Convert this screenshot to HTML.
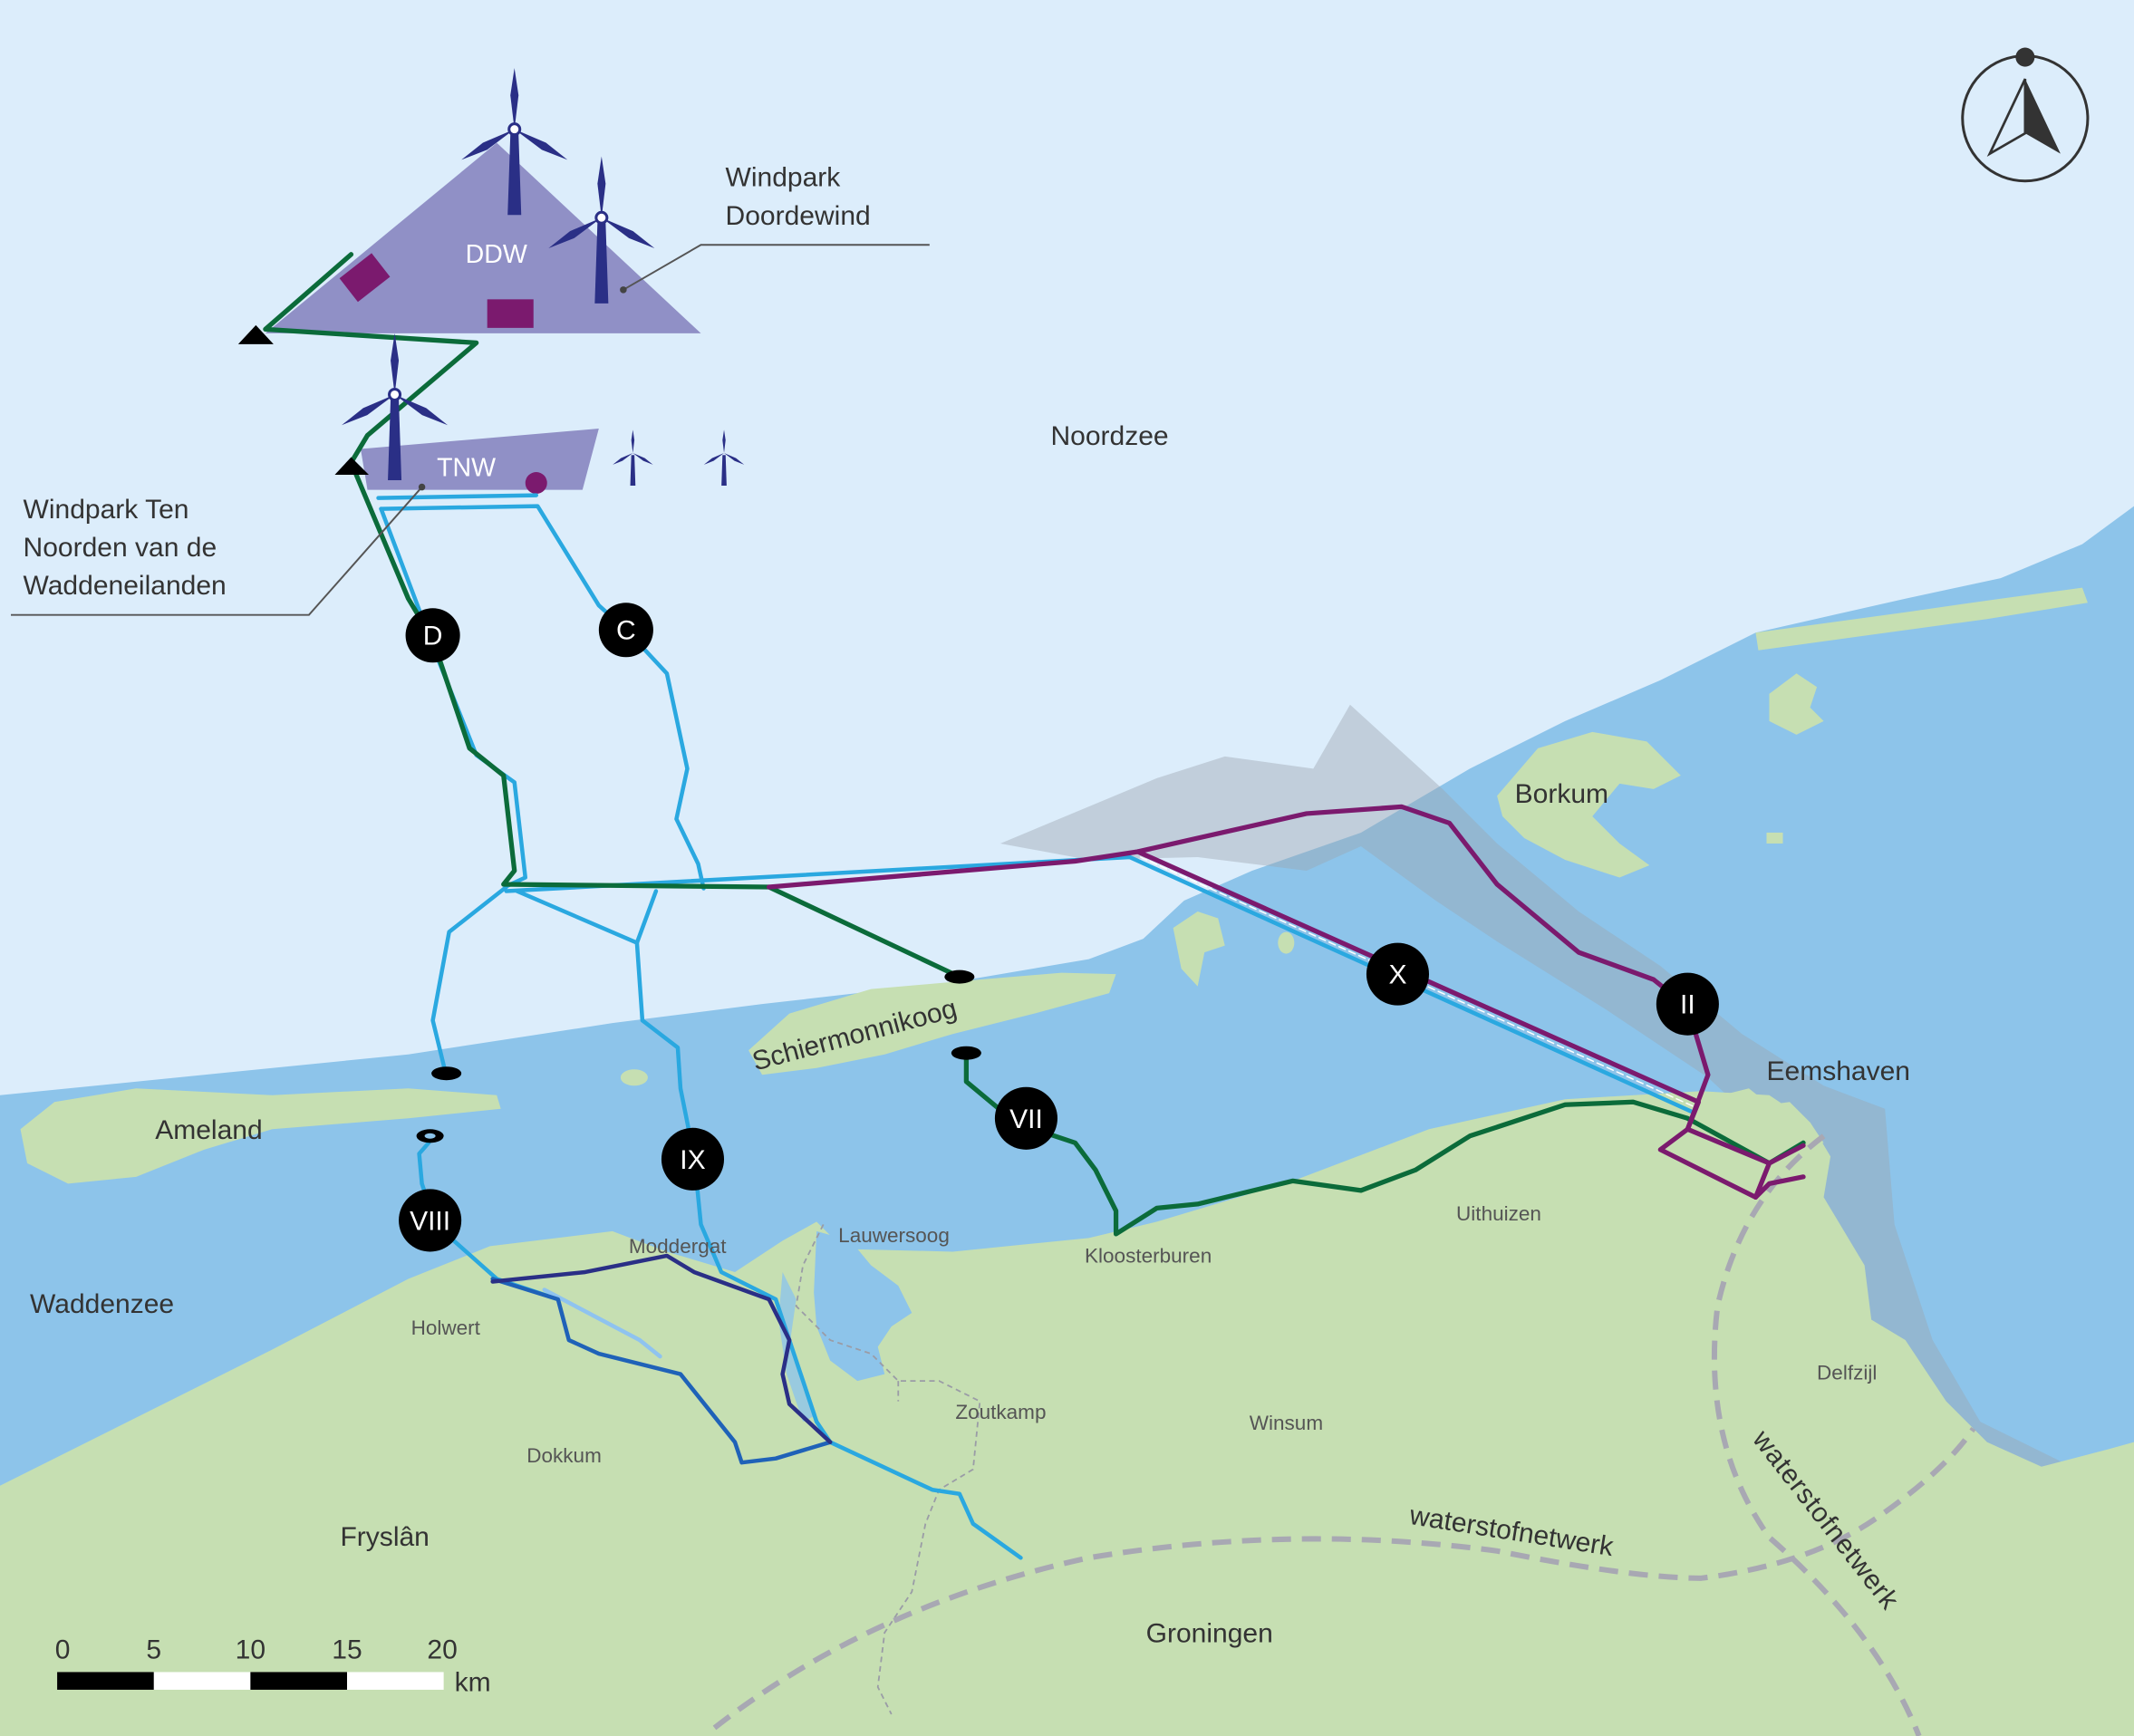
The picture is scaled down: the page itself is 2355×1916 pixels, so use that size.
<!DOCTYPE html>
<html><head><meta charset="utf-8"><style>
html,body{margin:0;padding:0;background:#dcedfb;}
svg{display:block}
text{font-family:"Liberation Sans",sans-serif;}
</style></head><body>
<svg width="2355" height="1916" viewBox="0 0 1568 1276" preserveAspectRatio="none" xmlns="http://www.w3.org/2000/svg">
<rect width="1568" height="1276" fill="#dcedfb"/>
<!-- sea -->
<path d="M0,805 L150,790 L300,775 L450,752 L560,738 L700,722 L800,705 L840,690 L870,662 L920,640 L1000,612 L1080,565 L1150,530 L1220,500 L1290,465 L1400,440 L1470,425 L1530,400 L1568,372 L1568,1276 L0,1276 Z" fill="#8dc4ea"/>
<!-- grey zone -->
<path d="M735,620 L850,572 L900,556 L965,565 L992,518 L1060,580 L1100,620 L1160,670 L1220,710 L1280,760 L1340,798 L1385,815 L1392,900 L1420,985 L1455,1045 L1530,1082 L1490,1088 L1420,1062 L1370,1000 L1338,920 L1312,845 L1255,792 L1180,742 L1100,692 L1055,662 L1000,622 L960,640 L880,630 L800,632 Z" fill="#9ba4ad" fill-opacity="0.42"/>
<!-- mainland -->
<path d="M0,1092 L100,1042 L200,992 L300,940 L360,916 L450,905 L490,920 L540,935 L575,912 L600,898 L620,918 L700,920 L750,915 L800,910 L850,898 L950,868 L1050,830 L1150,808 L1250,802 L1300,805 L1330,825 L1345,850 L1340,880 L1352,900 L1370,930 L1375,970 L1400,985 L1430,1030 L1460,1060 L1500,1078 L1550,1065 L1568,1060 L1568,1276 L0,1276 Z" fill="#c6dfb2"/>
<path d="M1255,820 L1265,805 L1285,800 L1300,812 L1315,810 L1330,825 L1340,840 L1300,845 Z" fill="#c6dfb2"/>
<!-- inlet near Lauwersoog -->
<path d="M600,905 L625,912 L640,930 L660,945 L670,965 L655,975 L645,990 L650,1010 L630,1015 L610,1000 L600,975 L598,950 Z" fill="#8dc4ea"/>
<path d="M575,935 L585,955 L580,990 L590,1010 L600,1040 L590,1045 L578,1010 L572,970 Z" fill="#8dc4ea" opacity="0.8"/>
<!-- islands -->
<path d="M15,830 L40,810 L100,800 L200,805 L300,800 L365,805 L368,815 L300,822 L200,830 L150,845 L100,865 L50,870 L20,855 Z" fill="#c6dfb2"/>
<path d="M550,772 L580,745 L640,727 L720,720 L780,715 L820,716 L815,730 L760,745 L700,760 L650,775 L600,785 L560,790 Z" fill="#c6dfb2"/>
<path d="M1100,585 L1130,550 L1170,538 L1210,545 L1235,570 L1215,580 L1190,576 L1170,600 L1190,620 L1212,636 L1190,645 L1150,632 L1120,616 L1104,600 Z" fill="#c6dfb2"/>
<path d="M1290,465 L1400,450 L1470,440 L1530,432 L1534,443 L1460,455 L1350,470 L1292,478 Z" fill="#c6dfb2"/>
<path d="M1300,510 L1320,495 L1335,505 L1330,520 L1340,530 L1320,540 L1300,530 Z" fill="#c6dfb2"/>
<path d="M862,682 L880,670 L895,675 L900,695 L885,700 L880,725 L868,712 Z" fill="#c6dfb2"/>
<ellipse cx="466" cy="792" rx="10" ry="6" fill="#c6dfb2"/>
<rect x="1298" y="612" width="12" height="8" fill="#c6dfb2"/>
<ellipse cx="945" cy="693" rx="6" ry="8" fill="#c6dfb2"/>
<!-- roads thin dashed -->
<g fill="none" stroke="#9a9ca6" stroke-width="1.2" stroke-dasharray="4 3">
<path d="M605,900 L590,930 L585,960 L610,985 L640,995 L660,1015 L690,1015 L720,1030 L715,1080 L690,1095 L680,1120 L670,1170 L650,1200 L645,1240 L655,1260"/>
<path d="M660,1015 L660,1030"/>
</g>
<!-- hydrogen network -->
<g fill="none" stroke="#a8a8b3" stroke-width="4" stroke-dasharray="14 8">
<path d="M525,1270 Q640,1180 800,1145 Q950,1120 1100,1140 Q1200,1160 1250,1160 Q1330,1150 1380,1115 Q1430,1080 1450,1050"/>
<path d="M1340,835 Q1280,880 1262,960 Q1250,1060 1300,1130 Q1380,1200 1410,1276"/>
</g>
<!-- wind parks -->
<path d="M195,245 L365,105 L515,245 Z" fill="#9090c6"/>
<path d="M265,330 L440,315 L428,360 L270,360 Z" fill="#9090c6"/>
<rect x="253" y="193" width="30" height="22" fill="#7b1a6e" transform="rotate(-38 268 204)"/>
<rect x="358" y="220" width="34" height="21" fill="#7b1a6e"/>
<circle cx="394" cy="355" r="8" fill="#7b1a6e"/>
<!-- routes -->
<g fill="none" stroke-linejoin="round" stroke-linecap="round">
<g stroke="#2aa8e0" stroke-width="3">
<path d="M278,366 L394,364"/>
<path d="M280,374 L395,372 L440,445 L462,465 L490,495 L505,565 L497,602 L513,635 L517,653"/>
<path d="M280,374 L320,480 L350,555 L378,575 L386,645 L373,651"/>
<path d="M372,655 L830,630 L1245,818"/>
<path d="M372,652 L330,685 L318,750 L327,787"/>
<path d="M380,655 L468,693 L482,655"/>
<path d="M468,693 L472,750 L498,770 L500,800 L510,850 L515,900 L530,935 L570,955 L580,985 L600,1045 L610,1060 L685,1095 L705,1098 L715,1120 L750,1145"/>
<path d="M315,840 L308,848 L310,870 L320,900 L365,940 L410,955"/>
</g>
<path d="M400,948 L470,985 L485,997" stroke="#8fc3ef" stroke-width="3"/>
<path d="M362,940 L410,955 L418,985 L440,995 L500,1010 L540,1060 L545,1075 L570,1072 L610,1060" stroke="#1f62b8" stroke-width="3"/>
<path d="M362,942 L430,935 L490,923 L510,935 L565,955 L580,985 L575,1010 L580,1032 L610,1060" stroke="#2a2f86" stroke-width="3"/>
<g stroke="#0b6b3a" stroke-width="3.5">
<path d="M258,187 L195,242 L350,252 L270,320 L258,340 L300,440 L318,470 L345,550 L370,570 L378,640 L370,650 L565,652 L705,718"/>
<path d="M710,775 L710,795 L740,820 L760,830 L790,840 L805,860 L820,890 L820,907 L850,888 L880,885 L950,868 L1000,875 L1040,860 L1080,835 L1150,812 L1200,810 L1240,822 L1300,855 L1325,840"/>
</g>
<g stroke="#7b1a6e" stroke-width="3.5">
<path d="M565,652 L790,633 L836,626 L960,598 L1030,593 L1065,605 L1100,650 L1160,700 L1215,720 L1240,740 L1255,790 L1240,830 L1220,845 L1290,880 L1300,855 L1325,842"/>
<path d="M836,626 L1248,810 L1240,830 L1300,855"/>
<path d="M1290,880 L1300,870 L1325,865"/>
</g>
<path d="M838,630 L1246,814" stroke="#fff" stroke-width="1" stroke-dasharray="5 3"/>
</g>
<!-- landfall ellipses -->
<g fill="#000"><ellipse cx="328" cy="789" rx="11" ry="5"/><ellipse cx="705" cy="718" rx="11" ry="5"/><ellipse cx="710" cy="774" rx="11" ry="5"/><ellipse cx="316" cy="835" rx="10" ry="5"/></g>
<ellipse cx="316" cy="835" rx="4" ry="2" fill="#8dc4ea"/>
<path d="M175,253 L188,239 L201,253 Z" fill="#000"/>
<path d="M246,349 L258,336 L271,349 Z" fill="#000"/>
<!-- turbines -->
<g fill="#2a2f86" stroke="none">
<g transform="translate(378,95)"><path d="M-3,4 L-5,63 L5,63 L3,4 Z"/><path d="M0,0 L-3,-25 L0,-45 L3,-25 Z"/><path d="M0,0 L-3,-25 L0,-45 L3,-25 Z" transform="rotate(120)"/><path d="M0,0 L-3,-25 L0,-45 L3,-25 Z" transform="rotate(240)"/><circle r="4" fill="#fff" stroke="#2a2f86" stroke-width="2"/></g>
<g transform="translate(442,160)"><path d="M-3,4 L-5,63 L5,63 L3,4 Z"/><path d="M0,0 L-3,-25 L0,-45 L3,-25 Z"/><path d="M0,0 L-3,-25 L0,-45 L3,-25 Z" transform="rotate(120)"/><path d="M0,0 L-3,-25 L0,-45 L3,-25 Z" transform="rotate(240)"/><circle r="4" fill="#fff" stroke="#2a2f86" stroke-width="2"/></g>
<g transform="translate(290,290)"><path d="M-3,4 L-5,63 L5,63 L3,4 Z"/><path d="M0,0 L-3,-25 L0,-45 L3,-25 Z"/><path d="M0,0 L-3,-25 L0,-45 L3,-25 Z" transform="rotate(120)"/><path d="M0,0 L-3,-25 L0,-45 L3,-25 Z" transform="rotate(240)"/><circle r="4" fill="#fff" stroke="#2a2f86" stroke-width="2"/></g>
<g transform="translate(465,333) scale(0.38)"><path d="M-3,4 L-5,63 L5,63 L3,4 Z"/><path d="M0,0 L-3,-25 L0,-45 L3,-25 Z"/><path d="M0,0 L-3,-25 L0,-45 L3,-25 Z" transform="rotate(120)"/><path d="M0,0 L-3,-25 L0,-45 L3,-25 Z" transform="rotate(240)"/></g>
<g transform="translate(532,333) scale(0.38)"><path d="M-3,4 L-5,63 L5,63 L3,4 Z"/><path d="M0,0 L-3,-25 L0,-45 L3,-25 Z"/><path d="M0,0 L-3,-25 L0,-45 L3,-25 Z" transform="rotate(120)"/><path d="M0,0 L-3,-25 L0,-45 L3,-25 Z" transform="rotate(240)"/></g>
</g>
<!-- leaders -->
<g fill="none" stroke="#555" stroke-width="1.3">
<path d="M458,213 L515,180 L683,180"/>
<path d="M310,358 L227,452 L8,452"/>
</g>
<circle cx="458" cy="213" r="2.5" fill="#444"/><circle cx="310" cy="358" r="2.5" fill="#444"/>
<!-- route labels -->
<g font-size="20" fill="#fff" text-anchor="middle">
<circle cx="318" cy="467" r="20" fill="#000"/><text x="318" y="474">D</text>
<circle cx="460" cy="463" r="20" fill="#000"/><text x="460" y="470">C</text>
<circle cx="1027" cy="716" r="23" fill="#000"/><text x="1027" y="723">X</text>
<circle cx="1240" cy="738" r="23" fill="#000"/><text x="1240" y="745">II</text>
<circle cx="754" cy="822" r="23" fill="#000"/><text x="754" y="829">VII</text>
<circle cx="509" cy="852" r="23" fill="#000"/><text x="509" y="859">IX</text>
<circle cx="316" cy="897" r="23" fill="#000"/><text x="316" y="904">VIII</text>
</g>
<g fill="#fff" font-size="19"><text x="342" y="193">DDW</text><text x="321" y="350">TNW</text></g>
<!-- text labels -->
<g fill="#333" font-size="20">
<text x="533" y="137">Windpark</text><text x="533" y="165">Doordewind</text>
<text x="17" y="381">Windpark Ten</text><text x="17" y="409">Noorden van de</text><text x="17" y="437">Waddeneilanden</text>
<text x="772" y="327">Noordzee</text>
<text x="1113" y="590">Borkum</text>
<text x="1298" y="794">Eemshaven</text>
<text x="114" y="837">Ameland</text>
<text x="22" y="965">Waddenzee</text>
<text x="250" y="1136">Fryslân</text>
<text x="842" y="1207">Groningen</text>
<text x="555" y="787" transform="rotate(-15 555 787)">Schiermonnikoog</text>
<text x="1035" y="1120" transform="rotate(9 1035 1120)">waterstofnetwerk</text>
<text x="1287" y="1058" transform="rotate(52 1287 1058)" textLength="160">waterstofnetwerk</text>
</g>
<g fill="#555" font-size="15">
<text x="462" y="921">Moddergat</text><text x="616" y="913">Lauwersoog</text><text x="797" y="928">Kloosterburen</text>
<text x="1070" y="897">Uithuizen</text><text x="302" y="981">Holwert</text><text x="387" y="1075">Dokkum</text>
<text x="702" y="1043">Zoutkamp</text><text x="918" y="1051">Winsum</text><text x="1335" y="1014">Delfzijl</text>
</g>
<!-- compass -->
<circle cx="1488" cy="87" r="46" fill="none" stroke="#333" stroke-width="2"/>
<circle cx="1488" cy="42" r="7" fill="#333"/>
<path d="M1488,58 L1462,113 L1488,98 Z" fill="none" stroke="#333" stroke-width="1.8"/>
<path d="M1488,58 L1514,113 L1488,98 Z" fill="#333"/>
<!-- scale bar -->
<rect x="42" y="1229" width="284" height="13" fill="#fff"/>
<rect x="42" y="1229" width="71" height="13" fill="#000"/>
<rect x="184" y="1229" width="71" height="13" fill="#000"/>
<g font-size="20" fill="#333" text-anchor="middle"><text x="46" y="1219">0</text><text x="113" y="1219">5</text><text x="184" y="1219">10</text><text x="255" y="1219">15</text><text x="325" y="1219">20</text></g>
<text x="334" y="1243" font-size="20" fill="#333">km</text>
</svg>
</body></html>
